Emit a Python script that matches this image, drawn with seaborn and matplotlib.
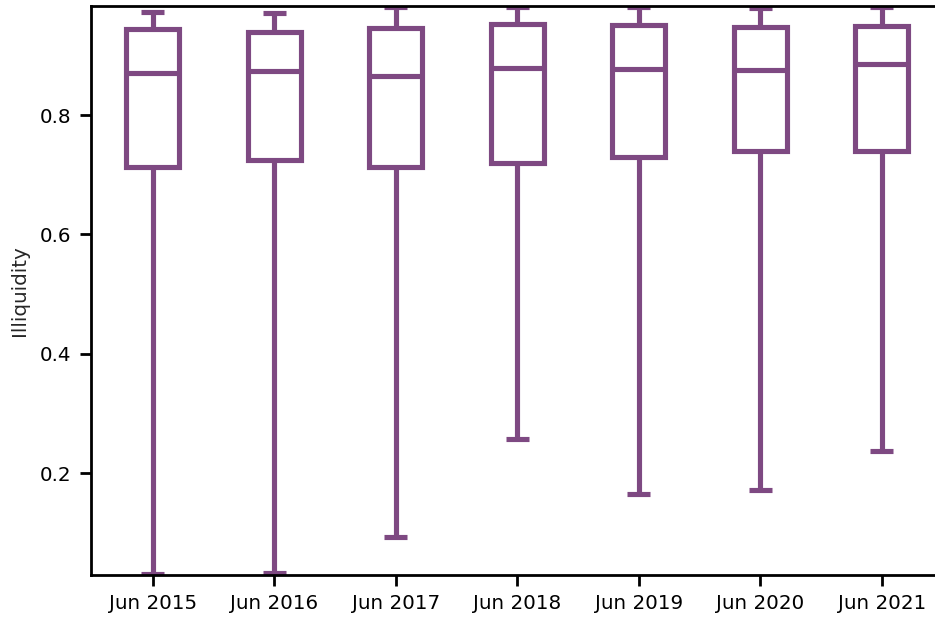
import matplotlib
matplotlib.use("Agg")
import matplotlib.pyplot as plt
import seaborn as sns
import pandas as pd

# Five-number summary of illiquidity per snapshot date
dates = ["Jun 2015", "Jun 2016", "Jun 2017", "Jun 2018", "Jun 2019", "Jun 2020", "Jun 2021"]
low = [0.030, 0.032, 0.093, 0.257, 0.164, 0.171, 0.237]
q1 = [0.713, 0.725, 0.713, 0.720, 0.730, 0.740, 0.740]
median = [0.870, 0.874, 0.865, 0.879, 0.877, 0.875, 0.886]
q3 = [0.944, 0.940, 0.946, 0.953, 0.951, 0.947, 0.949]
high = [0.973, 0.972, 0.981, 0.981, 0.982, 0.979, 0.981]
yticks = [0.2, 0.4, 0.6, 0.8]

rows = []
for d, a, b, c, e, f in zip(dates, low, q1, median, q3, high):
    for v in (a, b, c, e, f):
        rows.append({"date": d, "Illiquidity": v})
df = pd.DataFrame(rows)

sns.set_style("ticks")
plt.rcParams["font.family"] = ["DejaVu Sans"]

purple = "#7E4982"
fig = plt.figure(figsize=(9.35, 6.19), dpi=100)
ax = fig.add_axes([0.0973, 0.0711, 0.912, 0.9192])

sns.boxplot(
    data=df, x="date", y="Illiquidity", order=dates,
    whis=(0, 100), width=0.436, color="white", linecolor=purple,
    linewidth=3.7, showfliers=False, capwidths=0.19, ax=ax,
    capprops={"solid_capstyle": "butt"},
    whiskerprops={"solid_capstyle": "butt"},
    medianprops={"solid_capstyle": "butt"},
)

ax.set_xlim(-0.51, 6.51)
ax.set_ylim(0.029, 0.983)
ax.set_yticks(yticks)
ax.set_yticklabels([f"{t:.1f}" for t in yticks])
ax.set_xlabel("")
ax.set_ylabel("Illiquidity", fontsize=14.3, labelpad=8)
ax.tick_params(axis="both", labelsize=14.3, length=8, width=2, pad=6, colors="black")
for s in ax.spines.values():
    s.set_linewidth(2)
    s.set_color("black")

fig.savefig("out.png", dpi=100)
